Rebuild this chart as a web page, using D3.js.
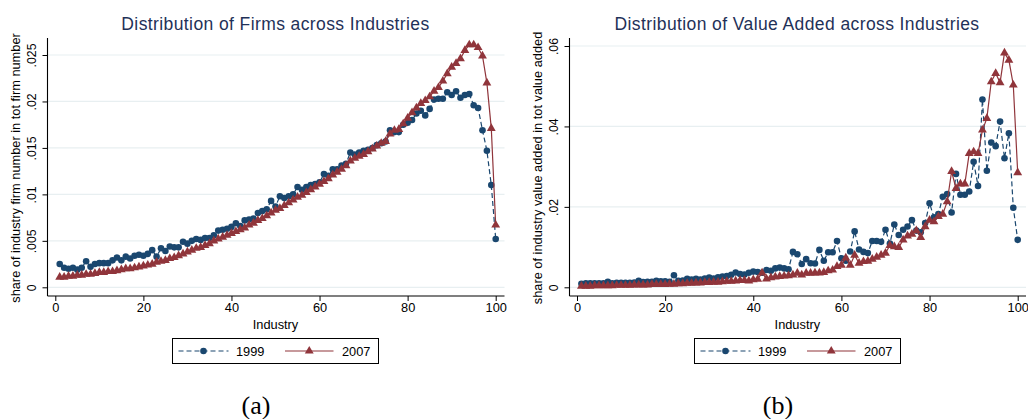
<!DOCTYPE html>
<html><head><meta charset="utf-8">
<script src="https://cdn.jsdelivr.net/npm/d3@7"></script>
<style>body{margin:0;background:#fff}svg{display:block;font-family:"Liberation Sans",Arial,sans-serif}</style>
</head><body><svg id="c" width="1028" height="419"></svg>
<script>
const industry = d3.range(1, 101);
const firms1999 = [0.0025,0.0021,0.0020,0.0021,0.0019,0.0021,0.0028,0.0022,0.0025,0.0026,
0.0026,0.0026,0.0029,0.0032,0.0029,0.0033,0.0031,0.0034,0.0035,0.0034,
0.0036,0.0040,0.0033,0.0042,0.0039,0.0044,0.0043,0.0043,0.0049,0.0047,
0.0050,0.0052,0.0051,0.0053,0.0053,0.0056,0.0061,0.0062,0.0063,0.0065,
0.0069,0.0066,0.0072,0.0073,0.0074,0.0080,0.0082,0.0084,0.0093,0.0087,
0.0098,0.0096,0.0098,0.0100,0.0108,0.0105,0.0108,0.0110,0.0111,0.0113,
0.0122,0.0120,0.0127,0.0127,0.0131,0.0133,0.0145,0.0143,0.0145,0.0147,
0.0148,0.0150,0.0153,0.0155,0.0157,0.0169,0.0167,0.0167,0.0175,0.0177,
0.0180,0.0187,0.0190,0.0185,0.0192,0.0202,0.0203,0.0203,0.0210,0.0207,
0.0211,0.0204,0.0207,0.0208,0.0196,0.0193,0.0169,0.0147,0.0110,0.0052];
const firms2007 = [0.0011,0.0011,0.0012,0.0012,0.0013,0.0013,0.0014,0.0014,0.0015,0.0016,
0.0016,0.0017,0.0017,0.0018,0.0019,0.0020,0.0020,0.0021,0.0022,0.0023,
0.0024,0.0025,0.0027,0.0028,0.0029,0.0031,0.0032,0.0034,0.0036,0.0038,
0.0040,0.0042,0.0043,0.0045,0.0047,0.0050,0.0052,0.0054,0.0056,0.0058,
0.0060,0.0062,0.0064,0.0067,0.0069,0.0072,0.0074,0.0077,0.0080,0.0083,
0.0085,0.0088,0.0091,0.0094,0.0097,0.0099,0.0102,0.0105,0.0108,0.0111,
0.0114,0.0117,0.0121,0.0124,0.0127,0.0131,0.0136,0.0139,0.0141,0.0143,
0.0146,0.0149,0.0152,0.0155,0.0157,0.0165,0.0169,0.0170,0.0176,0.0182,
0.0188,0.0193,0.0198,0.0201,0.0205,0.0211,0.0215,0.0222,0.0230,0.0237,
0.0241,0.0246,0.0255,0.0261,0.0261,0.0258,0.0249,0.0220,0.0171,0.0067];
const va1999 = [0.0009,0.0010,0.0010,0.0010,0.0010,0.0010,0.0014,0.0010,0.0011,0.0011,
0.0011,0.0011,0.0012,0.0016,0.0013,0.0014,0.0014,0.0016,0.0015,0.0015,
0.0014,0.0030,0.0016,0.0017,0.0021,0.0019,0.0021,0.0019,0.0022,0.0024,
0.0022,0.0025,0.0027,0.0028,0.0031,0.0037,0.0033,0.0032,0.0036,0.0039,
0.0038,0.0036,0.0043,0.0041,0.0047,0.0049,0.0047,0.0045,0.0088,0.0082,
0.0058,0.0070,0.0060,0.0059,0.0093,0.0066,0.0087,0.0087,0.0115,0.0072,
0.0066,0.0089,0.0139,0.0094,0.0088,0.0085,0.0115,0.0115,0.0113,0.0143,
0.0109,0.0156,0.0130,0.0143,0.0151,0.0167,0.0141,0.0137,0.0160,0.0209,
0.0174,0.0182,0.0225,0.0232,0.0186,0.0282,0.0230,0.0230,0.0238,0.0312,
0.0252,0.0467,0.0290,0.0360,0.0351,0.0412,0.0321,0.0383,0.0198,0.0118];
const va2007 = [0.0003,0.0003,0.0003,0.0004,0.0004,0.0004,0.0004,0.0004,0.0005,0.0005,
0.0005,0.0005,0.0006,0.0006,0.0006,0.0006,0.0007,0.0007,0.0007,0.0007,
0.0008,0.0008,0.0009,0.0009,0.0010,0.0010,0.0011,0.0011,0.0012,0.0012,
0.0013,0.0013,0.0014,0.0015,0.0015,0.0016,0.0017,0.0017,0.0016,0.0019,
0.0020,0.0036,0.0021,0.0024,0.0026,0.0027,0.0028,0.0029,0.0031,0.0035,
0.0031,0.0035,0.0035,0.0036,0.0036,0.0037,0.0041,0.0043,0.0052,0.0055,
0.0073,0.0055,0.0080,0.0060,0.0064,0.0065,0.0070,0.0075,0.0080,0.0085,
0.0104,0.0101,0.0099,0.0118,0.0128,0.0132,0.0141,0.0124,0.0151,0.0167,
0.0163,0.0176,0.0182,0.0213,0.0288,0.0246,0.0257,0.0257,0.0333,0.0337,
0.0333,0.0391,0.0420,0.0511,0.0532,0.0509,0.0583,0.0565,0.0503,0.0285];
const xTicks = [0, 20, 40, 60, 80, 100];
const firmsYTicks = [0, 0.005, 0.01, 0.015, 0.02, 0.025];
const firmsYLabels = ["0", ".005", ".01", ".015", ".02", ".025"];
const vaYTicks = [0, 0.02, 0.04, 0.06];
const vaYLabels = ["0", ".02", ".04", ".06"];
const seriesNames = ["1999", "2007"];
const panelTitles = ["Distribution of Firms across Industries", "Distribution of Value Added across Industries"];
const yTitles = ["share of industry firm number in tot firm number", "share of industry value added in tot value added"];
const xTitle = "Industry";
const captions = ["(a)", "(b)"];

const NAVY = "#1a476f", MAROON = "#90353b", GRID = "#e8eff1", TITLE = "#1f3158";
const FS = 12.8;

const panels = [
  {axisX: 47.5, right: 504.5, x0: 55.3, x1: 495.7, yTop: 55, ticks: firmsYTicks, labels: firmsYLabels,
   s: [firms1999, firms2007], title: panelTitles[0], ytitle: yTitles[0], cap: captions[0], titleX: 275.5,
   legX: 172.5, capX: 256},
  {axisX: 569.5, right: 1026, x0: 577, x1: 1017.7, yTop: 46, ticks: vaYTicks, labels: vaYLabels,
   s: [va1999, va2007], title: panelTitles[1], ytitle: yTitles[1], cap: captions[1], titleX: 797,
   legX: 694.5, capX: 778}
];

const svg = d3.select("#c");
const TOP = 38, BOTTOM = 296, Y0 = 287.3;

panels.forEach(p => {
  const g = svg.append("g");
  const x = d3.scaleLinear().domain([0, 100]).range([p.x0, p.x1]);
  const yMax = p.ticks[p.ticks.length - 1];
  const y = d3.scaleLinear().domain([0, yMax]).range([Y0, p.yTop]);

  // grid
  g.append("g").selectAll("line").data(p.ticks).join("line")
    .attr("x1", p.axisX).attr("x2", p.right)
    .attr("y1", d => y(d)).attr("y2", d => y(d))
    .attr("stroke", GRID).attr("stroke-width", 1.2);

  // y axis
  const ya = g.append("g").attr("transform", `translate(${p.axisX},0)`)
    .call(d3.axisLeft(y).tickValues(p.ticks).tickFormat((d, i) => p.labels[i]).tickSize(5).tickPadding(0));
  ya.select(".domain").remove();
  ya.selectAll(".tick line").attr("stroke", "#000").attr("stroke-width", 1);
  ya.selectAll(".tick text")
    .attr("x", null).attr("dy", null)
    .attr("transform", "translate(-11.5,0) rotate(-90)")
    .attr("text-anchor", "middle")
    .attr("font-size", 12.3).attr("font-family", "Liberation Sans, Arial, sans-serif").attr("fill", "#000");
  g.append("line").attr("x1", p.axisX).attr("x2", p.axisX).attr("y1", TOP).attr("y2", BOTTOM)
    .attr("stroke", "#000").attr("stroke-width", 1.1);

  // x axis
  const xa = g.append("g").attr("transform", `translate(0,${BOTTOM})`)
    .call(d3.axisBottom(x).tickValues(xTicks).tickSize(5).tickPadding(2));
  xa.select(".domain").remove();
  xa.selectAll(".tick line").attr("stroke", "#000");
  xa.selectAll(".tick text").attr("font-size", FS).attr("font-family", "Liberation Sans, Arial, sans-serif").attr("fill", "#000");
  g.append("line").attr("x1", p.axisX).attr("x2", p.right).attr("y1", BOTTOM).attr("y2", BOTTOM)
    .attr("stroke", "#000").attr("stroke-width", 1.1);

  // titles
  g.append("text").attr("x", p.titleX).attr("y", 29.5).attr("text-anchor", "middle")
    .attr("font-size", 17.5).attr("letter-spacing", 0.4).attr("fill", TITLE).text(p.title);
  g.append("text").attr("transform", `translate(${p.axisX - 27.5},${(TOP + BOTTOM) / 2 + 1}) rotate(-90)`)
    .attr("text-anchor", "middle").attr("font-size", FS).attr("fill", "#000").text(p.ytitle);
  g.append("text").attr("x", (p.x0 + p.x1) / 2).attr("y", 328.5).attr("text-anchor", "middle")
    .attr("font-size", FS).attr("fill", "#000").text(xTitle);

  // series
  const styles = [
    {color: NAVY, dash: "5,3", sym: d3.symbolCircle, size: 34},
    {color: MAROON, dash: null, sym: d3.symbolTriangle, size: 34}
  ];
  p.s.forEach((vals, k) => {
    const st = styles[k];
    const data = industry.map((d, i) => [d, vals[i]]);
    g.append("path").datum(data)
      .attr("fill", "none").attr("stroke", st.color).attr("stroke-width", 1.2)
      .attr("stroke-dasharray", st.dash)
      .attr("d", d3.line().x(d => x(d[0])).y(d => y(d[1])));
    g.append("g").selectAll("path").data(data).join("path")
      .attr("transform", d => `translate(${x(d[0])},${y(d[1])})`)
      .attr("d", d3.symbol(st.sym, st.size))
      .attr("fill", st.color);
  });

  // legend
  const lg = g.append("g").attr("transform", `translate(${p.legX},338.5)`);
  lg.append("rect").attr("width", 206).attr("height", 25).attr("fill", "#fff").attr("stroke", "#000").attr("stroke-width", 1);
  const entries = [
    {x1: 6, x2: 56, tx: 63.5},
    {x1: 112.5, x2: 161, tx: 169.5}
  ];
  entries.forEach((e, k) => {
    const st = styles[k];
    lg.append("line").attr("x1", e.x1).attr("x2", e.x2).attr("y1", 12.5).attr("y2", 12.5)
      .attr("stroke", st.color).attr("stroke-width", 1.2).attr("stroke-dasharray", st.dash);
    lg.append("path").attr("transform", `translate(${(e.x1 + e.x2) / 2},12.5)`)
      .attr("d", d3.symbol(st.sym, st.size)).attr("fill", st.color);
    lg.append("text").attr("x", e.tx).attr("y", 17).attr("font-size", FS).attr("fill", "#000").text(seriesNames[k]);
  });

  // caption
  g.append("text").attr("x", p.capX).attr("y", 413.5).attr("text-anchor", "middle")
    .attr("font-family", "Liberation Serif, DejaVu Serif, serif").attr("font-size", 26).attr("fill", "#000").text(p.cap);
});
</script></body></html>
